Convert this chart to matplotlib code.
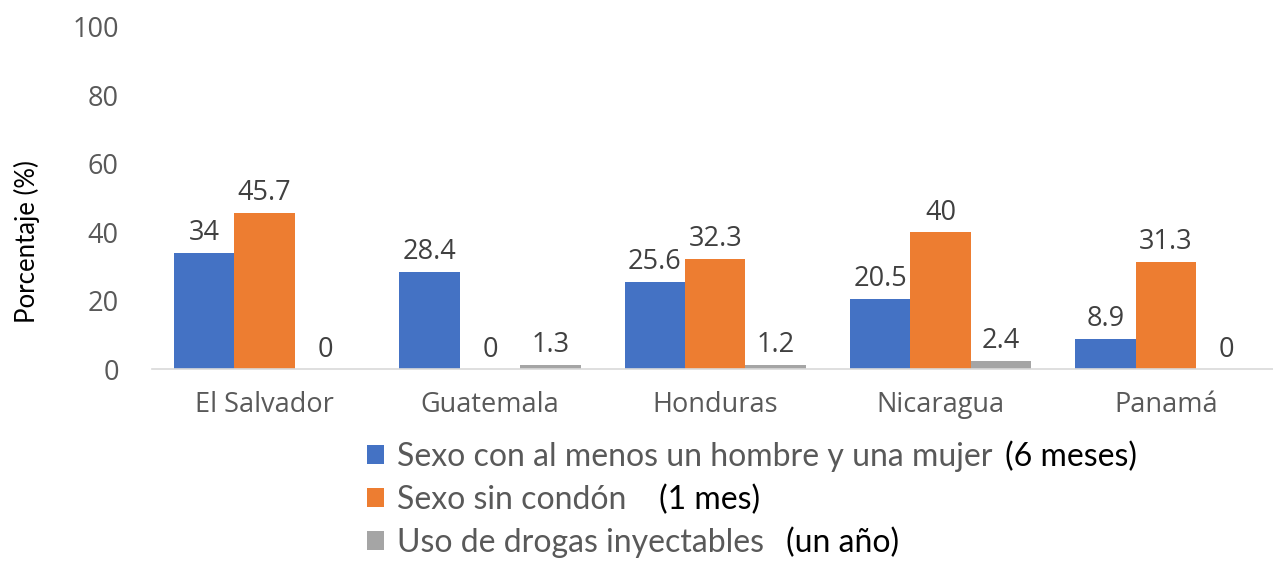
import matplotlib
matplotlib.use("Agg")
import matplotlib.pyplot as plt
import numpy as np
from matplotlib.patches import Patch

categories = ["El Salvador", "Guatemala", "Honduras", "Nicaragua", "Panamá"]
series_names = ["Sexo con al menos un hombre y una mujer", "Sexo sin condón", "Uso de drogas inyectables"]
series_notes = ["(6 meses)", "(1 mes)", "(un año)"]
sexo_hm = [34, 28.4, 25.6, 20.5, 8.9]
sin_condon = [45.7, 0, 32.3, 40, 31.3]
drogas = [0, 1.3, 1.2, 2.4, 0]
label_sexo_hm = ["34", "28.4", "25.6", "20.5", "8.9"]
label_sin_condon = ["45.7", "0", "32.3", "40", "31.3"]
label_drogas = ["0", "1.3", "1.2", "2.4", "0"]
yticks = [0, 20, 40, 60, 80, 100]

colors = ["#4472C4", "#ED7D31", "#A5A5A5"]
tick_color = "#595959"
label_color = "#404040"
num_font = ["Open Sans", "DejaVu Sans"]
txt_font = ["Lato", "DejaVu Sans"]

fig = plt.figure(figsize=(12.73, 5.61), dpi=100)
ax = fig.add_axes([0.1194, 0.342, 0.885, 0.61])

x = np.arange(len(categories))
w = 0.268
all_vals = [sexo_hm, sin_condon, drogas]
all_labels = [label_sexo_hm, label_sin_condon, label_drogas]
for i, (vals, labs) in enumerate(zip(all_vals, all_labels)):
    pos = x + (i - 1) * w
    ax.bar(pos, vals, width=w, color=colors[i], zorder=2)
    for px, v, lab in zip(pos, vals, labs):
        ax.annotate(lab, (px, v), xytext=(0, 4), textcoords="offset points",
                    ha="center", va="bottom", fontsize=19.5, color=label_color,
                    family=num_font)

ax.set_xlim(-0.5, 4.5)
ax.set_ylim(0, 100)
ax.set_yticks(yticks)
ax.set_yticklabels([str(t) for t in yticks], family=num_font, fontsize=19.5, color=tick_color)
ax.set_xticks(x)
ax.set_xticklabels(categories, family=num_font, fontsize=19.5, color=tick_color)
ax.tick_params(axis="both", length=0)
ax.tick_params(axis="y", pad=24)
ax.tick_params(axis="x", pad=16)
for s in ["top", "right", "left"]:
    ax.spines[s].set_visible(False)
ax.spines["bottom"].set_color("#D9D9D9")
ax.spines["bottom"].set_linewidth(1.2)

fig.text(0.021, 0.570, "Porcentaje (%)", rotation=90, ha="center", va="center",
         fontsize=18.5, color="black", family=["Liberation Sans Narrow", "Lato", "DejaVu Sans"])

handles = [Patch(facecolor=c, edgecolor="none") for c in colors]
leg = fig.legend(handles, series_names, loc="upper left", bbox_to_anchor=(0.288, 0.212),
                 frameon=False, prop={"family": txt_font, "size": 23},
                 handlelength=0.55, handleheight=0.55, handletextpad=0.4,
                 labelspacing=0.40, borderpad=0, borderaxespad=0)
for t in leg.get_texts():
    t.set_color(tick_color)

fig.canvas.draw()
r = fig.canvas.get_renderer()
inv = fig.transFigure.inverted()
gaps = [13, 33, 22]
for t, note, g in zip(leg.get_texts(), series_notes, gaps):
    bb = t.get_window_extent(r)
    xf, yf = inv.transform((bb.x1 + g, (bb.y0 + bb.y1) / 2))
    fig.text(xf, yf, note, ha="left", va="center", fontsize=23, color="black",
             family=txt_font)

fig.savefig("out.png", dpi=100)
